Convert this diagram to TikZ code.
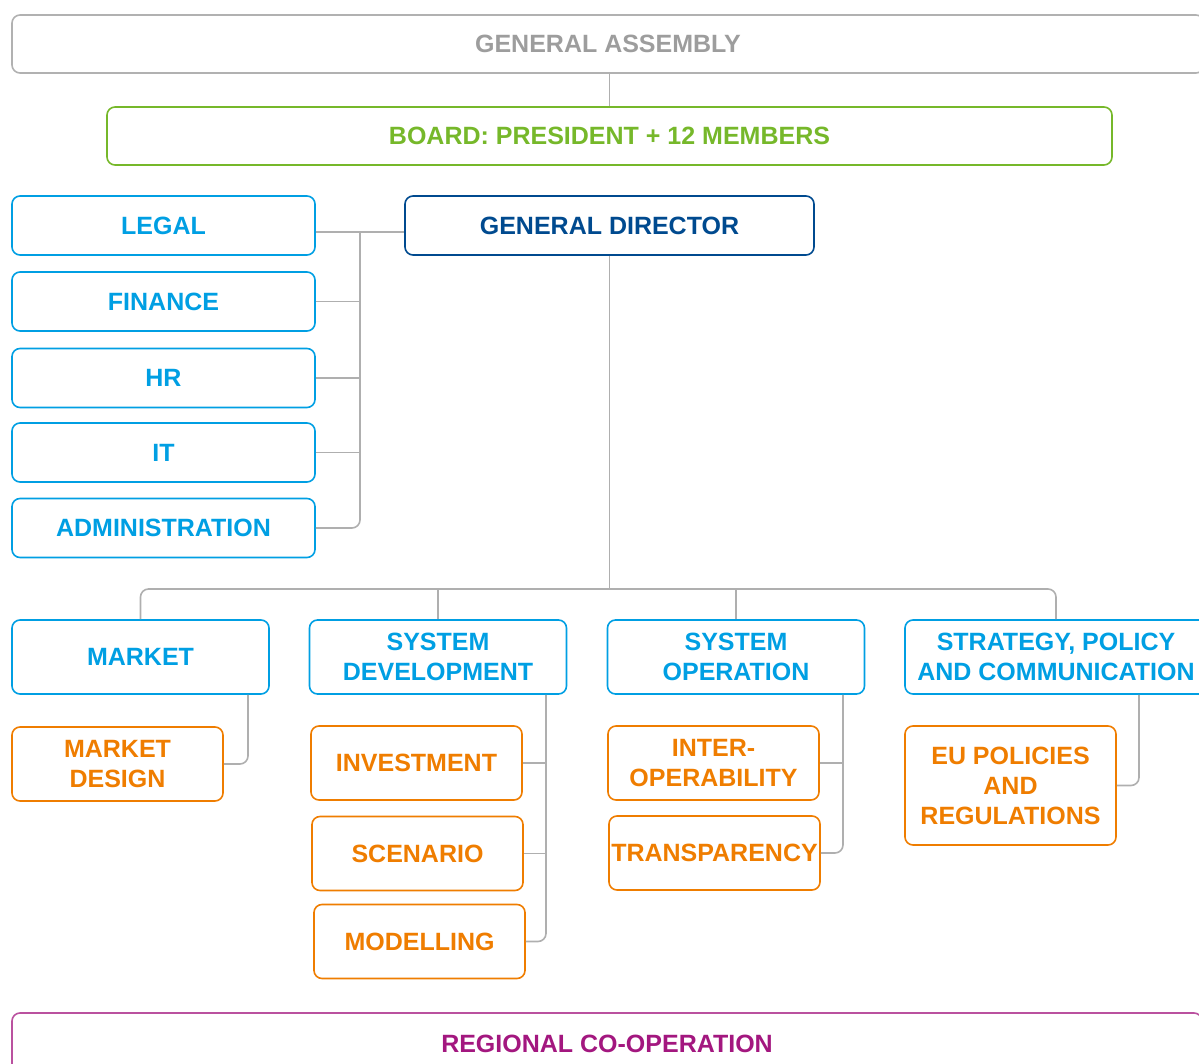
\documentclass[tikz,border=0pt]{standalone}
\usepackage{fontspec}
\setmainfont{Liberation Sans}
\usetikzlibrary{calc,positioning}
\definecolor{gagray}{HTML}{9D9D9D}
\definecolor{boardgreen}{HTML}{76B82A}
\definecolor{gdblue}{HTML}{004A8F}
\definecolor{unitblue}{HTML}{009FE3}
\definecolor{suborange}{HTML}{EF7D00}
\definecolor{regpurple}{HTML}{A3177F}
\definecolor{conngray}{HTML}{AFAFAF}
\tikzstyle{box} = [draw,rounded corners=4pt,line width=0.8pt,align=center,inner sep=0pt,
  font=\bfseries\fontsize{12.5}{15}\selectfont]
\tikzstyle{staff} = [box,draw=unitblue,text=unitblue,minimum width=151.5pt,minimum height=29.5pt]
\tikzstyle{dept} = [box,draw=unitblue,text=unitblue,minimum width=128.5pt,minimum height=37pt]
\tikzstyle{sub} = [box,draw=suborange,text=suborange,minimum width=105.5pt,minimum height=37pt]
\tikzstyle{conn} = [draw=conngray,line width=0.8pt]
\begin{document}
\begin{tikzpicture}[x=0.5pt,y=-0.5pt]
        \useasboundingbox (0,0) rectangle (1199,1064);
        % top level
        \node[box,draw=gagray!80,text=gagray,minimum width=596pt,minimum height=29pt] (ga) at (608,44) {GENERAL ASSEMBLY};
        \node[box,draw=boardgreen,text=boardgreen,minimum width=502.5pt,minimum height=29pt] (board) at (609.5,136) {BOARD: PRESIDENT + 12 MEMBERS};
        \node[box,draw=gdblue,text=gdblue,minimum width=204.5pt,minimum height=29.5pt] (gd) at (609.5,225.5) {GENERAL DIRECTOR};
        % staff units
        \node[staff] (legal) at (163.5,225.5) {LEGAL};
        \node[staff] (finance) at (163.5,301.5) {FINANCE};
        \node[staff] (hr) at (163.5,378) {HR};
        \node[staff] (it) at (163.5,452.5) {IT};
        \node[staff] (admin) at (163.5,528) {ADMINISTRATION};
        % departments
        \node[dept] (market) at (140.5,657) {MARKET};
        \node[dept] (sysdev) at (438,657) {SYSTEM\\DEVELOPMENT};
        \node[dept] (sysop) at (736,657) {SYSTEM\\OPERATION};
        \node[dept,minimum width=151pt] (strategy) at (1056,657) {STRATEGY, POLICY\\AND COMMUNICATION};
        % sub units
        \node[sub] (mdesign) at (117.5,764) {MARKET\\DESIGN};
        \node[sub] (invest) at (416.5,763) {INVESTMENT};
        \node[sub] (scenario) at (417.5,853.5) {SCENARIO};
        \node[sub] (model) at (419.5,941.5) {MODELLING};
        \node[sub] (interop) at (713.5,763) {INTER-\\OPERABILITY};
        \node[sub] (transp) at (714.5,853) {TRANSPARENCY};
        \node[sub,minimum height=59.5pt] (eupol) at (1010.5,785.5) {EU POLICIES\\AND\\REGULATIONS};
        % bottom
        \node[box,draw=regpurple!75,text=regpurple,minimum width=595pt,minimum height=31pt] (regional) at (607,1044) {REGIONAL CO-OPERATION};

        % connectors top
        \draw[conn] (ga.south -| board.north) -- (board.north);
        \coordinate (staffbus) at (360,232);
        \draw[conn] (legal.east |- staffbus) -- (gd.west |- staffbus);
        \draw[conn,rounded corners=4pt] (staffbus) |- (admin.east);
        \foreach \u in {finance,hr,it} {
            \draw[conn] (\u.east) -- (\u.east -| staffbus);
        }
        % connectors departments
        \coordinate (deptbus) at (609.5,589);
        \draw[conn] (gd.south) -- (deptbus);
        \draw[conn,rounded corners=4pt] (market.north) |- (deptbus) -| (strategy.north);
        \draw[conn] (sysdev.north) -- (sysdev.north |- deptbus);
        \draw[conn] (sysop.north) -- (sysop.north |- deptbus);
        % connectors sub units
        \draw[conn,rounded corners=4pt] ($(market.south)+(107.5,0)$) |- (mdesign.east);
        \coordinate (sdbus) at ($(sysdev.south)+(108,0)$);
        \draw[conn,rounded corners=4pt] (sdbus) |- (model.east);
        \draw[conn] (invest.east) -- (invest.east -| sdbus);
        \draw[conn] (scenario.east) -- (scenario.east -| sdbus);
        \coordinate (sobus) at ($(sysop.south)+(107,0)$);
        \draw[conn,rounded corners=4pt] (sobus) |- (transp.east);
        \draw[conn] (interop.east) -- (interop.east -| sobus);
        \draw[conn,rounded corners=4pt] ($(strategy.south)+(83,0)$) |- (eupol.east);
\end{tikzpicture}
\end{document}
